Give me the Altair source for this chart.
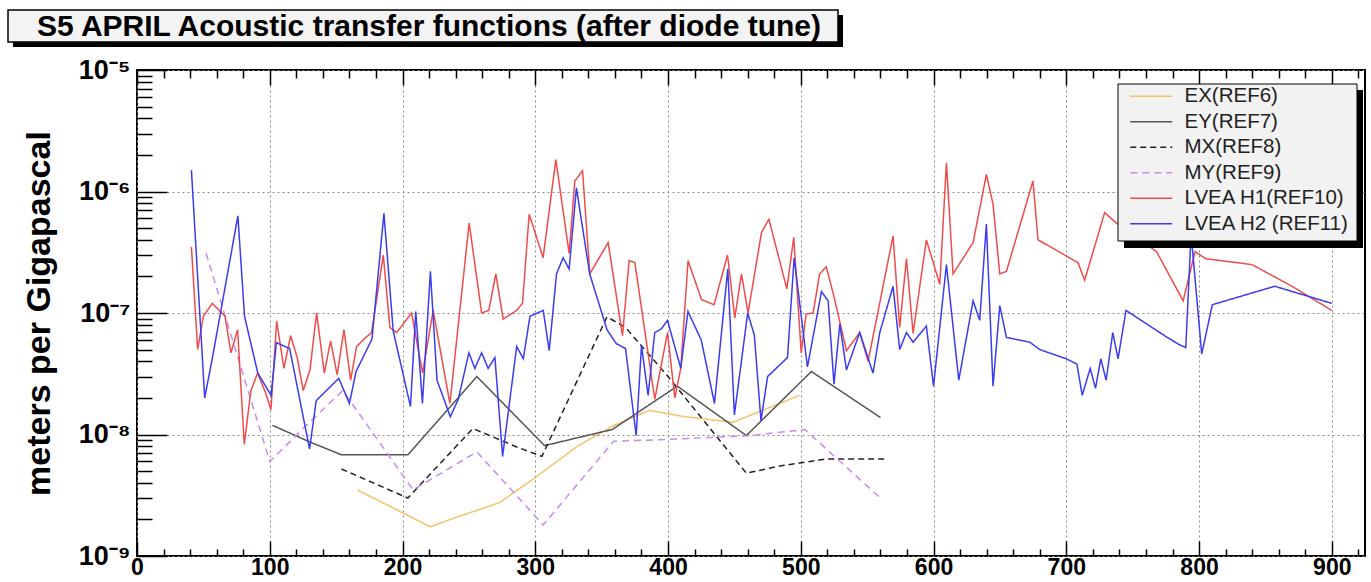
import altair as alt
import pandas as pd

# ---------------- data ----------------
series_names = ["EX(REF6)", "EY(REF7)", "MX(REF8)", "MY(REF9)", "LVEA H1(REF10)", "LVEA H2 (REF11)"]
series_colors = ["#f2c36c", "#555555", "#222222", "#c98ae8", "#ef4b4b", "#3b3bef"]
series_dashes = [[1, 0], [1, 0], [6, 4], [7, 5], [1, 0], [1, 0]]

ex_freq = [166, 221, 236, 273, 301, 331, 358, 386, 411, 449, 484, 499]
ex_val = [3.5e-9, 1.74e-9, 2.0e-9, 2.75e-9, 4.5e-9, 7.9e-9, 1.17e-8, 1.58e-8, 1.41e-8, 1.26e-8, 1.8e-8, 2.1e-8]

ey_freq = [102, 130, 154, 204, 256, 307, 358, 407, 459, 508, 560]
ey_val = [1.19e-8, 8.7e-9, 6.8e-9, 6.8e-9, 3.0e-8, 8.1e-9, 1.1e-8, 2.5e-8, 9.8e-9, 3.3e-8, 1.38e-8]

mx_freq = [154, 204, 253, 286, 305, 354, 368, 400, 459, 484, 520, 563]
mx_val = [5.2e-9, 3.0e-9, 1.12e-8, 7.9e-9, 6.6e-9, 9.3e-8, 7.6e-8, 3.0e-8, 4.8e-9, 5.5e-9, 6.3e-9, 6.3e-9]

my_freq = [52, 100, 130, 155, 208, 256, 306, 359, 399, 462, 503, 560]
my_val = [3.1e-7, 6.0e-9, 1.26e-8, 2.3e-8, 3.5e-9, 7.2e-9, 1.8e-9, 8.8e-9, 9.1e-9, 9.8e-9, 1.1e-8, 3.0e-9]

h1_freq = [41, 45.7, 50, 56.7, 66.3, 70.8, 75.8, 80.8, 85.8, 90.8, 96.9, 100.9, 105.2, 110.7, 115.7,
           120.7, 125.2, 130.3, 135.3, 141.1, 145.8, 150.8, 155.9, 160.9, 165.4, 171.7, 176.7, 185.5,
           190.5, 195.6, 206.8, 215.1, 223.1, 235.7, 250.2, 259.6, 265, 270.3, 275.8, 285.9, 290.4,
           295.4, 305.9, 315.5, 325.5, 329.8, 335.6, 341.1, 354.9, 365.7, 370.7, 375, 390, 399.6,
           405.1, 409.6, 415.1, 425.2, 434.7, 444.8, 450.3, 455.3, 460.3, 470.4, 476, 489.5, 494.7,
           500.3, 504, 509.3, 514.2, 519.2, 525.1, 534.4, 544.4, 550.7, 569.5, 574.5, 579.6, 584.6,
           594.6, 604.7, 609.7, 614.7, 629.8, 639.8, 644.8, 649.9, 654.9, 674.9, 678.7, 708.8, 713.8,
           728.9, 737.7, 768, 788, 797, 805, 840, 870, 900]
h1_val = [3.5e-7, 5.0e-8, 9.4e-8, 1.2e-7, 9.4e-8, 4.7e-8, 7.3e-8, 8.3e-9, 2.3e-8, 3.2e-8, 2.2e-8, 1.6e-8,
          8.6e-8, 3.5e-8, 6.5e-8, 4.3e-8, 2.3e-8, 3.4e-8, 1.0e-7, 3.2e-8, 5.9e-8, 3.1e-8, 7.3e-8, 2.8e-8,
          5.3e-8, 6.2e-8, 6.9e-8, 3.0e-7, 7.6e-8, 6.9e-8, 1.0e-7, 3.2e-8, 1.05e-7, 1.8e-8, 5.5e-7, 1.0e-7,
          1.05e-7, 2.1e-7, 8.9e-8, 1.05e-7, 1.2e-7, 6.5e-7, 2.85e-7, 1.83e-6, 3.1e-7, 1.22e-6, 1.48e-6,
          2.1e-7, 3.8e-7, 6.5e-8, 2.7e-7, 2.6e-7, 1.95e-8, 6.9e-8, 2.0e-8, 3.5e-8, 2.7e-7, 1.29e-7,
          1.17e-7, 3.0e-7, 9.1e-8, 2.1e-7, 1.0e-7, 4.6e-7, 5.9e-7, 1.58e-7, 4.2e-7, 4.7e-8, 9.8e-8,
          1.0e-7, 2.1e-7, 2.4e-7, 1.35e-7, 4.9e-8, 6.9e-8, 4.0e-8, 4.3e-7, 7.6e-8, 2.8e-7, 6.8e-8,
          4.0e-7, 1.72e-7, 1.72e-6, 2.1e-7, 3.8e-7, 1.38e-6, 7.9e-7, 2.1e-7, 2.2e-7, 1.22e-6, 4.0e-7,
          2.6e-7, 1.86e-7, 6.7e-7, 5.5e-7, 3.2e-7, 1.26e-7, 3.2e-7, 2.8e-7, 2.5e-7, 1.66e-7, 1.05e-7]

h2_freq = [41, 51, 57.5, 76, 81, 91, 101, 105, 115, 130, 135, 152, 160, 165, 177, 186, 193, 206, 210,
           215, 221, 226, 236, 242, 250, 254.5, 259.6, 264.5, 269.6, 275.4, 286, 291, 296, 306, 310.5,
           316, 321, 325.5, 331, 341, 354, 361, 368, 376, 380, 385, 390, 395, 399.6, 409.6, 415, 425,
           435, 445, 450, 460, 465, 470, 475, 490, 495, 505, 515.6, 520.6, 525, 529.4, 534.4, 544.4,
           554.4, 559.5, 569.5, 574.5, 579.6, 584.6, 594.6, 600, 609.7, 619, 629.8, 634.8, 639.8,
           644.8, 649.9, 654.9, 672.5, 680, 700, 708, 712, 718, 722, 726, 730, 735, 739, 745, 776,
           785, 790, 794, 802, 810, 857, 900]
h2_val = [1.5e-6, 2.0e-8, 4.7e-8, 6.3e-7, 9.4e-8, 3.2e-8, 2.1e-8, 5.7e-8, 5.1e-8, 7.6e-9, 1.9e-8,
          2.9e-8, 1.8e-8, 3.3e-8, 6.1e-8, 6.6e-7, 7.1e-8, 1.7e-8, 1.03e-7, 1.8e-8, 2.2e-7, 2.8e-8,
          1.4e-8, 1.95e-8, 4.7e-8, 3.5e-8, 4.7e-8, 3.5e-8, 4.3e-8, 6.6e-9, 5.3e-8, 4.2e-8, 9.4e-8,
          1.05e-7, 4.9e-8, 2.1e-7, 2.85e-7, 2.3e-7, 1.07e-6, 2.1e-7, 7.3e-8, 5.6e-8, 5.1e-8, 9.8e-9,
          5.4e-8, 2.1e-8, 6.9e-8, 7.4e-8, 8.7e-8, 3.5e-8, 1.03e-7, 6.0e-8, 1.8e-8, 2.3e-7, 1.45e-8,
          1.0e-7, 6.6e-8, 1.3e-8, 3.0e-8, 4.3e-8, 2.85e-7, 3.6e-8, 1.5e-7, 1.26e-7, 2.6e-8, 8.1e-8,
          3.4e-8, 6.9e-8, 3.2e-8, 6.9e-8, 1.66e-7, 5.0e-8, 6.9e-8, 5.75e-8, 7.8e-8, 2.5e-8, 2.5e-7,
          2.8e-8, 1.26e-7, 8.7e-8, 5.4e-7, 2.5e-8, 1.15e-7, 6.3e-8, 5.75e-8, 5.0e-8, 4.2e-8, 3.8e-8,
          2.1e-8, 3.5e-8, 2.4e-8, 4.2e-8, 2.8e-8, 6.9e-8, 4.2e-8, 1.05e-7, 6.3e-8, 5.5e-8, 5.2e-8,
          4.5e-7, 4.6e-8, 1.17e-7, 1.66e-7, 1.2e-7]

x_major_ticks = [0, 100, 200, 300, 400, 500, 600, 700, 800, 900]
x_minor_ticks = [v for v in range(20, 940, 20) if v % 100 != 0]
y_major_ticks = [1e-9, 1e-8, 1e-7, 1e-6, 1e-5]
y_minor_ticks = [m * d for d in [1e-9, 1e-8, 1e-7, 1e-6] for m in range(2, 10)]

title_text = "S5 APRIL Acoustic transfer functions (after diode tune)"
y_title = "meters per Gigapascal"

# ---------------- table ----------------
rows = []
for name, fx, fv in zip(series_names,
                        [ex_freq, ey_freq, mx_freq, my_freq, h1_freq, h2_freq],
                        [ex_val, ey_val, mx_val, my_val, h1_val, h2_val]):
    for i, (a, b) in enumerate(zip(fx, fv)):
        rows.append({"series": name, "f": a, "v": b, "i": i})
df = pd.DataFrame(rows)

W, H = 1228, 486
xscale = alt.Scale(domain=[0, 925], nice=False, zero=False)
yscale = alt.Scale(type="log", domain=[1e-9, 1e-5], nice=False)

LBL = "Liberation Sans"

# legend entries only (box and shadow are drawn as rects below)
leg = alt.Legend(title=None, orient="none", legendX=990, legendY=16,
                 padding=0, symbolType="M-1,0H5", symbolSize=196, symbolStrokeWidth=1.6,
                 labelOffset=37, labelFont=LBL, labelFontSize=20.5, labelColor="#222222",
                 rowPadding=4.5, labelLimit=400)

color_enc = alt.Color("series:N", scale=alt.Scale(domain=series_names, range=series_colors), legend=leg)
dash_enc = alt.StrokeDash("series:N", scale=alt.Scale(domain=series_names, range=series_dashes), legend=leg)

base = alt.Chart(df)

ylabel_expr = ("datum.value > 5e-6 ? '10⁻⁵' : datum.value > 5e-7 ? '10⁻⁶' : "
               "datum.value > 5e-8 ? '10⁻⁷' : datum.value > 5e-9 ? '10⁻⁸' : '10⁻⁹'")

lines = base.mark_line(strokeWidth=1.5).encode(
    x=alt.X("f:Q", scale=xscale, axis=alt.Axis(
        orient="bottom", values=x_major_ticks, title=None, ticks=False, domain=False,
        grid=True, gridColor="#8a8a8a", gridDash=[2, 3], gridWidth=1,
        labelFont=LBL, labelFontSize=23, labelFontWeight="bold", labelColor="#000",
        labelPadding=0, labelFlush=False, labelOverlap=False)),
    y=alt.Y("v:Q", scale=yscale, axis=alt.Axis(
        orient="left", values=y_major_ticks, title=y_title, ticks=False, domain=False,
        grid=True, gridColor="#8a8a8a", gridDash=[2, 3], gridWidth=1,
        labelExpr=ylabel_expr, labelFont=LBL, labelFontSize=27, labelFontWeight="bold",
        labelColor="#000", labelPadding=7, labelOverlap=False,
        titleFont=LBL, titleFontSize=34, titleFontWeight="bold", titleColor="#000",
        titleX=-98, titleY=H / 2, titleAngle=270, titleAlign="center", titleBaseline="middle")),
    color=color_enc,
    strokeDash=dash_enc,
    order=alt.Order("i:Q"),
)


def tick_layer(xorient, xoff, xlen, xvals, yorient=None, yoff=0, ylen=0, yvals=None):
    xa = alt.Axis(orient=xorient, offset=xoff, tickSize=xlen, values=xvals, labels=False,
                  domain=False, grid=False, title=None, tickColor="#000", tickWidth=1.5)
    if yorient is None:
        ya = None
    else:
        ya = alt.Axis(orient=yorient, offset=yoff, tickSize=ylen, values=yvals, labels=False,
                      domain=False, grid=False, title=None, tickColor="#000", tickWidth=1.5)
    return base.mark_line(opacity=0).encode(
        x=alt.X("f:Q", scale=xscale, axis=xa),
        y=alt.Y("v:Q", scale=yscale, axis=ya),
        detail="series:N",
    )


t_major = tick_layer("bottom", -15, 15, x_major_ticks, "left", -30, 30, y_major_ticks)
t_minor = tick_layer("bottom", -7, 7, x_minor_ticks, "left", -15, 15, y_minor_ticks)
t_top_major = tick_layer("top", -15, 15, x_major_ticks)
t_top_minor = tick_layer("top", -8, 8, x_minor_ticks)

one = alt.Chart(pd.DataFrame({"k": [0]}))

# title box with shadow
title_shadow = one.mark_rect(color="#000000").encode(
    x=alt.value(-124), x2=alt.value(706), y=alt.value(-55), y2=alt.value(-23))
title_box = one.mark_rect(fill="#f3f3f3", stroke="#000000", strokeWidth=1.5).encode(
    x=alt.value(-129), x2=alt.value(701), y=alt.value(-60), y2=alt.value(-28))
title_txt = one.mark_text(text=title_text, font=LBL, fontWeight="bold", fontSize=30,
                          align="center", baseline="middle", color="#000").encode(
    x=alt.value(292), y=alt.value(-43))

# legend box with shadow
legend_shadow = one.mark_rect(color="#000000").encode(
    x=alt.value(987), x2=alt.value(1226), y=alt.value(20), y2=alt.value(178))
legend_box = one.mark_rect(fill="#f2f2f2", stroke="#000000", strokeWidth=1).encode(
    x=alt.value(981), x2=alt.value(1220), y=alt.value(14), y2=alt.value(171))

chart = alt.layer(
    title_shadow, title_box, title_txt,
    lines, t_major, t_minor, t_top_major, t_top_minor,
    legend_shadow, legend_box,
).resolve_axis(x="independent", y="independent").properties(
    width=W, height=H,
    padding={"left": 137, "top": 70, "right": 6, "bottom": 26},
    autosize=alt.AutoSizeParams(type="none"),
    background="white",
).configure_view(stroke="#000000", strokeWidth=2)

chart.save("out.html", embed_options={"renderer": "svg", "actions": False})
